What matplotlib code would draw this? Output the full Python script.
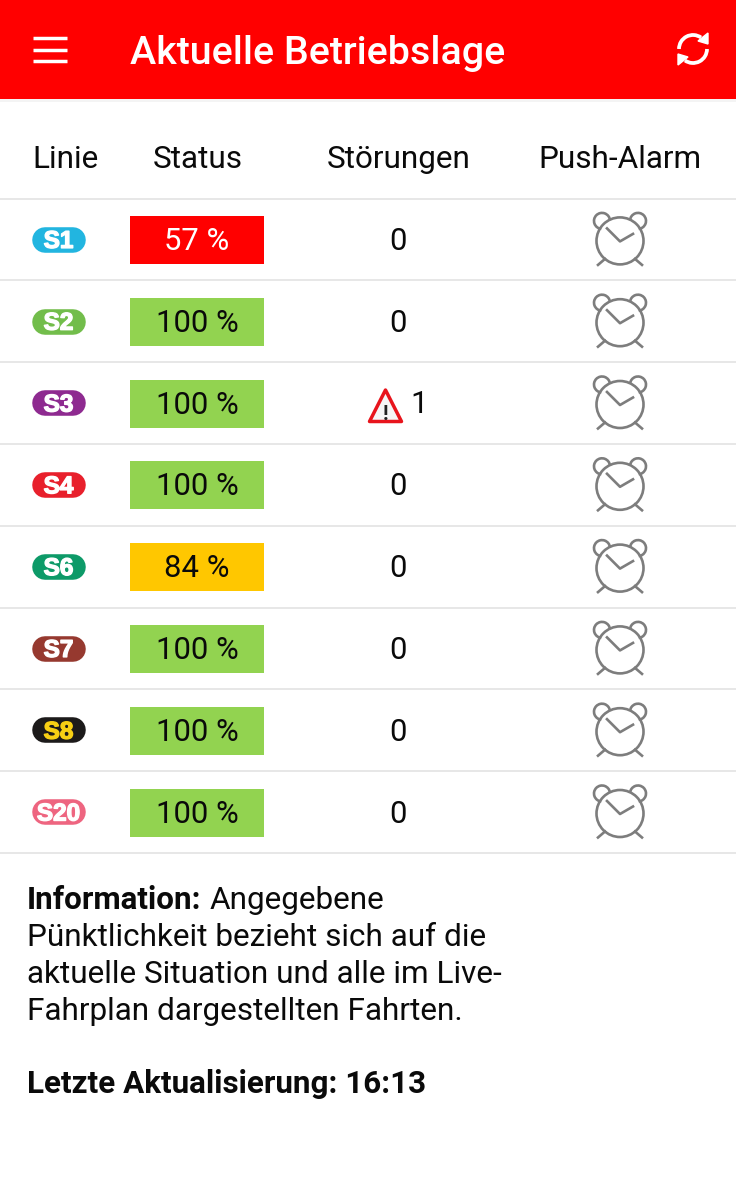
import matplotlib
matplotlib.use('Agg')
import matplotlib.pyplot as plt
import matplotlib.patheffects as pe
from matplotlib.patches import Rectangle, Circle, Polygon, Arc

plt.rcParams['font.family'] = ['Roboto', 'DejaVu Sans']

# table content
lines = ['S1', 'S2', 'S3', 'S4', 'S6', 'S7', 'S8', 'S20']
line_colors = ['#22b5e0', '#72bd4b', '#8e2a90', '#e8202c', '#0d9a68', '#96392f', '#1c1a1a', '#ee6580']
line_text_colors = ['white', 'white', 'white', 'white', 'white', 'white', '#f7cf14', 'white']
status = [57, 100, 100, 100, 84, 100, 100, 100]
disturbances = [0, 0, 1, 0, 0, 0, 0, 0]
headers = ['Linie', 'Status', 'Störungen', 'Push-Alarm']

RED = '#ff0000'
GREEN = '#92d350'
YELLOW = '#ffc700'
GREY = '#7d7d7d'
LINE = '#e0e0e0'
INK = '#0a0a0a'

TOP = 198.5
ROW_H = 81.8


def status_color(val):
    if val >= 90:
        return GREEN
    if val >= 80:
        return YELLOW
    return RED


def draw_clock(ax, cx, cy):
    lw = 1.9
    ax.add_patch(Circle((cx, cy + 1.5), 23.5, fc='none', ec=GREY, lw=lw))
    # bells
    ax.add_patch(Arc((cx - 18, cy - 18.5), 16, 16, angle=0, theta1=95, theta2=355, ec=GREY, lw=lw))
    ax.add_patch(Arc((cx + 18, cy - 18.5), 16, 16, angle=0, theta1=185, theta2=85, ec=GREY, lw=lw))
    # legs
    ax.plot([cx - 15, cx - 22], [cy + 19.5, cy + 25.5], color=GREY, lw=lw)
    ax.plot([cx + 15, cx + 22], [cy + 19.5, cy + 25.5], color=GREY, lw=lw)
    # hands
    ax.plot([cx - 13, cx, cx + 13], [cy - 11, cy + 2, cy - 5.5], color=GREY, lw=lw)


def draw_warning(ax, cx, cy):
    tri = Polygon([(cx, cy - 14), (cx + 16, cy + 17.5), (cx - 16, cy + 17.5)], closed=True,
                  fc='#f6f6f6', ec='#e8141c', lw=2.5, joinstyle='round')
    ax.add_patch(tri)
    ax.text(cx, cy + 15.5, '!', ha='center', va='baseline', fontsize=15, fontweight='bold', color='#222222')


fig = plt.figure(figsize=(7.36, 12), dpi=100)
ax = fig.add_axes([0, 0, 1, 1])
ax.set_xlim(0, 736)
ax.set_ylim(1200, 0)
ax.axis('off')

# app bar
ax.add_patch(Rectangle((0, 0), 736, 99, fc=RED, ec='none'))
ax.add_patch(Rectangle((0, 99), 736, 3, fc='#f4f4f4', ec='none'))
for y in [38, 49.5, 60.5]:
    ax.plot([33, 67], [y, y], color='white', lw=2.5, solid_capstyle='butt')
ax.text(130, 64, 'Aktuelle Betriebslage', color='white', fontsize=28.4, fontweight='medium',
        ha='left', va='baseline')

# refresh icon
ax.add_patch(Arc((693, 49), 28, 28, angle=0, theta1=180, theta2=305, ec='white', lw=2.7))
ax.add_patch(Arc((693, 49), 28, 28, angle=0, theta1=0, theta2=125, ec='white', lw=2.7))
ax.add_patch(Polygon([(698, 41), (708, 33), (708, 44)], closed=True, fc='white', ec='white', lw=1))
ax.add_patch(Polygon([(688, 57), (678, 65), (678, 54)], closed=True, fc='white', ec='white', lw=1))

# header row
header_x = [65.5, 197.5, 398.5, 620]
for x, h in zip(header_x, headers):
    ax.text(x, 168, h, ha='center', va='baseline', fontsize=22.7, color=INK)

ax.plot([0, 736], [TOP, TOP], color=LINE, lw=1.1)

for i, name in enumerate(lines):
    cy = TOP + ROW_H * (i + 0.5)
    ax.plot([0, 736], [TOP + ROW_H * (i + 1)] * 2, color=LINE, lw=1.1)

    # line badge, a thick line with round caps makes the pill
    ax.plot([44.8, 72.5], [cy + 0.3, cy + 0.3], color=line_colors[i], lw=18.4, solid_capstyle='round')
    ax.text(58.5, cy + 8.5, name, color=line_text_colors[i], fontsize=17.5, fontweight='bold',
            family='Liberation Sans', ha='center', va='baseline',
            path_effects=[pe.withStroke(linewidth=1.0, foreground=line_text_colors[i])])

    # status box
    ax.add_patch(Rectangle((130, cy - 23.5), 134, 48, fc=status_color(status[i]), ec='none'))
    ax.text(197, cy + 10.6, f'{status[i]} %', color='white' if status[i] < 80 else INK,
            fontsize=22.3, ha='center', va='baseline')

    # disturbances
    if disturbances[i]:
        draw_warning(ax, 385.5, cy + 1)
        ax.text(419.5, cy + 10, str(disturbances[i]), ha='center', va='baseline', fontsize=22.3, color=INK)
    else:
        ax.text(398, cy + 10.6, str(disturbances[i]), ha='center', va='baseline', fontsize=22.3, color=INK)

    draw_clock(ax, 620, cy)

# footer text
ax.text(27, 909, 'Information:', fontsize=22.6, fontweight='bold', color=INK, ha='left', va='baseline')
ax.text(210, 909, 'Angegebene', fontsize=22.7, color=INK, ha='left', va='baseline')
ax.text(27, 946, 'Pünktlichkeit bezieht sich auf die', fontsize=22.7, color=INK, ha='left', va='baseline')
ax.text(27, 983, 'aktuelle Situation und alle im Live-', fontsize=22.7, color=INK, ha='left', va='baseline')
ax.text(27, 1020, 'Fahrplan dargestellten Fahrten.', fontsize=22.7, color=INK, ha='left', va='baseline')
ax.text(27, 1093, 'Letzte Aktualisierung: 16:13', fontsize=22.6, fontweight='bold', color=INK,
        ha='left', va='baseline')

fig.savefig('out.png', dpi=100, facecolor='white')
